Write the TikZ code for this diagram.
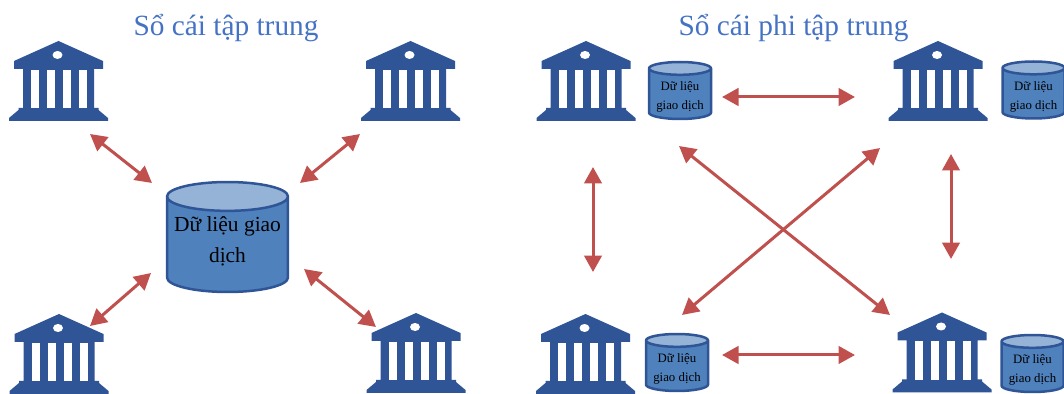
\documentclass[tikz,border=0pt]{standalone}
\usepackage{fontspec}
\setmainfont{Liberation Serif}
\usetikzlibrary{arrows.meta,shapes.geometric}
\definecolor{bankblue}{HTML}{2F5597}
\definecolor{titleblue}{HTML}{4472C4}
\definecolor{dbbody}{HTML}{4F81BD}
\definecolor{dbtop}{HTML}{95B3D7}
\definecolor{dbline}{HTML}{2F5597}
\definecolor{linkred}{HTML}{C0504D}
% text of a cylinder: takes no room, so it does not stretch the shape
\newcommand\dblines[2]{\raisebox{#1}[0pt][0pt]{\begin{tabular}{@{}c@{}}#2\end{tabular}}}
\def\dbtext{\dblines{-0.10cm}{Dữ liệu\\giao dịch}}
\tikzset{
  title/.style={text=titleblue, font=\fontsize{16.7}{20}\selectfont},
  link/.style={draw=linkred, line width=0.06cm, {Triangle[length=0.33cm,width=0.35cm]}-{Triangle[length=0.33cm,width=0.35cm]}},
  db/.style={cylinder, shape border rotate=90, draw=dbline, line width=0.05cm, aspect=0.27,
    cylinder uses custom fill, cylinder body fill=dbbody, cylinder end fill=dbtop,
    anchor=shape center, inner sep=0pt, text=black},
  bigdb/.style={db, minimum width=2.42cm, minimum height=2.2cm, font=\fontsize{12.2}{17.3}\selectfont},
  smalldb/.style={db, minimum width=1.24cm, minimum height=1.14cm, font=\fontsize{7.3}{10.8}\selectfont},
  bank/.pic={
    \fill[bankblue] (0,-40) -- (44.5,-20) -- (44.5,-12) -- (35.5,-12) -- (35.5,27) -- (40,27) -- (40,29)
      -- (49.5,37) -- (49.5,40) -- (-49.5,40) -- (-49.5,37) -- (-40,29) -- (-40,27) -- (-35.5,27)
      -- (-35.5,-12) -- (-44.5,-12) -- (-44.5,-20) -- cycle;
    \foreach \c in {-27.5,-11.5,4.5,20.5}
      \fill[white] (\c,-11) rectangle (\c+8.3,27.5);
    \fill[white] (-1,-26) ellipse (5 and 4);
  }
}
\begin{document}
\begin{tikzpicture}[x=0.02cm, y=-0.02cm]
  \useasboundingbox (0,0) rectangle (1064,394);

  \node[title] (titleA) at (226,28) {Sổ cái tập trung};
  \node[title] (titleB) at (793.5,28) {Sổ cái phi tập trung};

  \foreach \name/\x/\y in {bankA/58.5/81, bankB/410.5/81, bankC/59/354, bankD/416/353,
      bankE/586/81, bankF/938/81, bankG/585.5/354, bankH/942/352.5}
    \pic (\name) at (\x,\y) {bank};

  \node[bigdb] (hub) at (227.5,237) {\dblines{-0.03cm}{Dữ liệu giao\\dịch}};
  \node[smalldb] (dbE) at (680,90.5) {\dbtext};
  \node[smalldb] (dbF) at (1033.5,90) {\dbtext};
  \node[smalldb] (dbG) at (677,362.5) {\dbtext};
  \node[smalldb] (dbH) at (1032.5,363.5) {\dbtext};

  % arrow ends
  \foreach \name/\x/\y in {a1/90/134, a2/152/183, b1/360/134, b2/300/183,
      c1/151/273, c2/90/326, d1/304/269, d2/376/327,
      e1/722/97, e2/855/97, f1/722/355, f2/855/355,
      g1/593/167, g2/593/272, h1/951/154, h2/951/259,
      i1/679/146, i2/890/315, j1/880/148, j2/682/315}
    \coordinate (\name) at (\x,\y);

  \foreach \p/\q in {a1/a2, b1/b2, c1/c2, d1/d2, e1/e2, f1/f2, g1/g2, h1/h2, i1/i2, j1/j2}
    \draw[link] (\p) -- (\q);
\end{tikzpicture}
\end{document}
